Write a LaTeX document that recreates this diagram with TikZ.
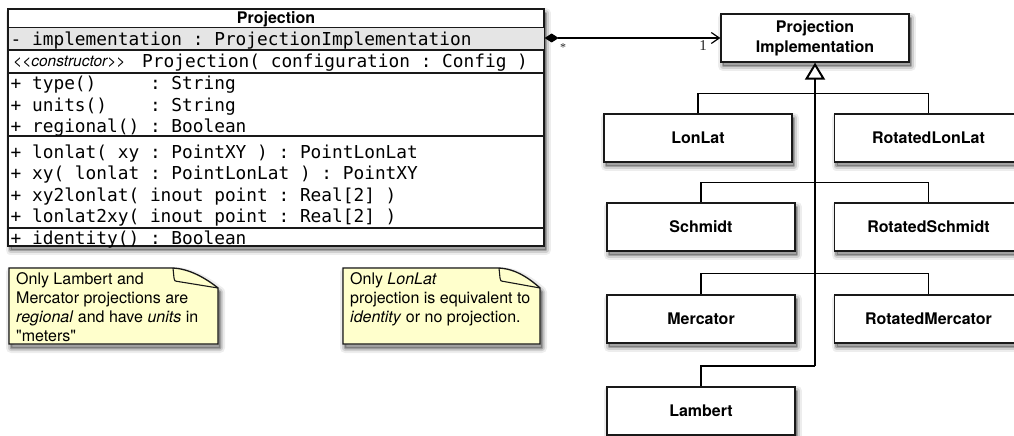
\documentclass[tikz,border=0pt]{standalone}
\usepackage{fontspec}
\setmainfont{TeX Gyre Heros}[Ligatures=TeXOff]
\setmonofont{DejaVu Sans Mono}
\newfontfamily\labelserif{Liberation Serif}
\usetikzlibrary{arrows.meta}
\definecolor{notefill}{RGB}{255,255,204}
\definecolor{rowgray}{RGB}{229,229,229}
\definecolor{edgecol}{RGB}{25,25,25}
\tikzset{
  shad/.style={
    preaction={draw=black,line width=10pt,draw opacity=0.07,line join=round,transform canvas={xshift=2pt,yshift=-4pt}},
    preaction={draw=black,line width=6pt,draw opacity=0.12,line join=round,transform canvas={xshift=2pt,yshift=-4pt}},
    preaction={draw=black,fill=black,line width=2.5pt,opacity=0.22,line join=round,transform canvas={xshift=2pt,yshift=-4pt}}},
  cls/.style={draw=edgecol,line width=1.3pt,fill=white,shad,minimum width=188pt,minimum height=48pt,
    inner sep=0pt,font=\fontsize{16}{20}\selectfont\bfseries,align=center},
  mem/.style={anchor=west,inner sep=0pt,font=\fontsize{17.8}{20}\selectfont\ttfamily,
    text height=0.76em,text depth=0.24em},
  sepline/.style={draw=edgecol,line width=1.3pt},
  conn/.style={draw=black,line width=1.1pt},
  gen/.style={draw=black,line width=2pt},
  notebox/.style={draw=edgecol,line width=1.3pt,fill=notefill,shad},
  foldline/.style={draw=edgecol,line width=1.1pt},
  notetext/.style={anchor=north west,inner sep=0pt,align=left,font=\fontsize{16}{19}\selectfont},
  mult/.style={inner sep=0pt,text=black!85},
}
\begin{document}
\begin{tikzpicture}[x=1pt,y=-1pt]
\useasboundingbox (0,0) rectangle (1014,436);

% ---------- Projection class ----------
\node[draw=edgecol,line width=1.3pt,fill=white,shad,minimum width=535.5pt,minimum height=236.5pt,inner sep=0pt] (proj) at (276.25,127.75) {};
\fill[rowgray] (8.5,27.5) rectangle (544,50);
\draw[sepline] (proj.north west) rectangle (proj.south east);
\draw[sepline] (8.5,27.5) -- (544,27.5);
\draw[sepline] (8.5,50) -- (544,50);
\draw[sepline] (8.5,73) -- (544,73);
\draw[sepline] (8.5,136) -- (544,136);
\draw[sepline] (8.5,228) -- (544,228);

\node[inner sep=0pt,font=\fontsize{16}{16}\selectfont\bfseries,text height=0.72em,text depth=0.2em] (ptitle) at (276,20.5) {Projection};
\node[mem] (attr) at (10.5,42.5) {-~implementation~:~ProjectionImplementation};
\node[anchor=west,inner sep=0pt,font=\fontsize{15.5}{15.5}\selectfont\itshape,text height=0.72em,text depth=0.2em] (stereo) at (13,63.5) {<<constructor>>};
\node[mem] (ctor) at (142,65) {Projection(~configuration~:~Config~)};
\node[mem] (op1) at (10.5,87) {+~type()~~~~~:~String};
\node[mem] (op2) at (10.5,108.5) {+~units()~~~~:~String};
\node[mem] (op3) at (10.5,130) {+~regional()~:~Boolean};
\node[mem] (op4) at (10.5,155.5) {+~lonlat(~xy~:~PointXY~)~:~PointLonLat};
\node[mem] (op5) at (10.5,177) {+~xy(~lonlat~:~PointLonLat~)~:~PointXY};
\node[mem] (op6) at (10.5,198.5) {+~xy2lonlat(~inout~point~:~Real[2]~)};
\node[mem] (op7) at (10.5,220) {+~lonlat2xy(~inout~point~:~Real[2]~)};
\node[mem] (op8) at (10.5,241.5) {+~identity()~:~Boolean};

% ---------- Implementation hierarchy ----------
\node[cls] (pi) at (815,38) {Projection\\Implementation};
\node[cls] (lonlat) at (698,138) {LonLat};
\node[cls] (rlonlat) at (928.5,138) {RotatedLonLat};
\node[cls] (schmidt) at (701,227) {Schmidt};
\node[cls] (rschmidt) at (928.5,227) {RotatedSchmidt};
\node[cls] (merc) at (701,319) {Mercator};
\node[cls] (rmerc) at (928.5,319) {RotatedMercator};
\node[cls] (lambert) at (701,411) {Lambert};

\draw[conn] (lonlat.north) -- ++(0,-20) -| (rlonlat.north);
\draw[conn] (schmidt.north) -- ++(0,-20) -| (rschmidt.north);
\draw[conn] (merc.north) -- ++(0,-21) -| (rmerc.north);
\coordinate (bend) at (815,366);
\draw[conn] (bend) -| (lambert.north);
\draw[gen,-{Triangle[length=17pt,width=20pt,fill=white]}] (bend) -- (pi.south);

% ---------- Association ----------
\draw[conn,line width=1.2pt,{Diamond[length=14pt,width=9pt]}-{Straight Barb[length=8pt,width=11pt]}] (proj.east |- pi.west) -- (pi.west);
\node[mult,font=\fontsize{12}{12}\selectfont\labelserif] (mstar) at (563,48) {*};
\node[mult,font=\fontsize{15}{15}\selectfont\labelserif] (mone) at (703,46) {1};

% ---------- Notes ----------
\path[notebox] (9,268) -- (171,268) .. controls (190,268) and (208,280) .. (218,288) -- (218,344) -- (9,344) -- cycle;
\draw[foldline] (173,268) -- (174,278) .. controls (174.5,281) .. (178,281.5) -- (218,288);
\node[notetext] (note1) at (16,272) {Only Lambert and\\Mercator projections are\\\textit{regional} and have \textit{units} in\\"meters"};

\path[notebox] (343,268) -- (497,268) .. controls (516,268) and (531,280) .. (540,288) -- (540,344) -- (343,344) -- cycle;
\draw[foldline] (499,268) -- (500,278) .. controls (500.5,281) .. (504,281.5) -- (540,288);
\node[notetext] (note2) at (350,272) {Only \textit{LonLat}\\projection is equivalent to\\\textit{identity} or no projection.};
\end{tikzpicture}
\end{document}
